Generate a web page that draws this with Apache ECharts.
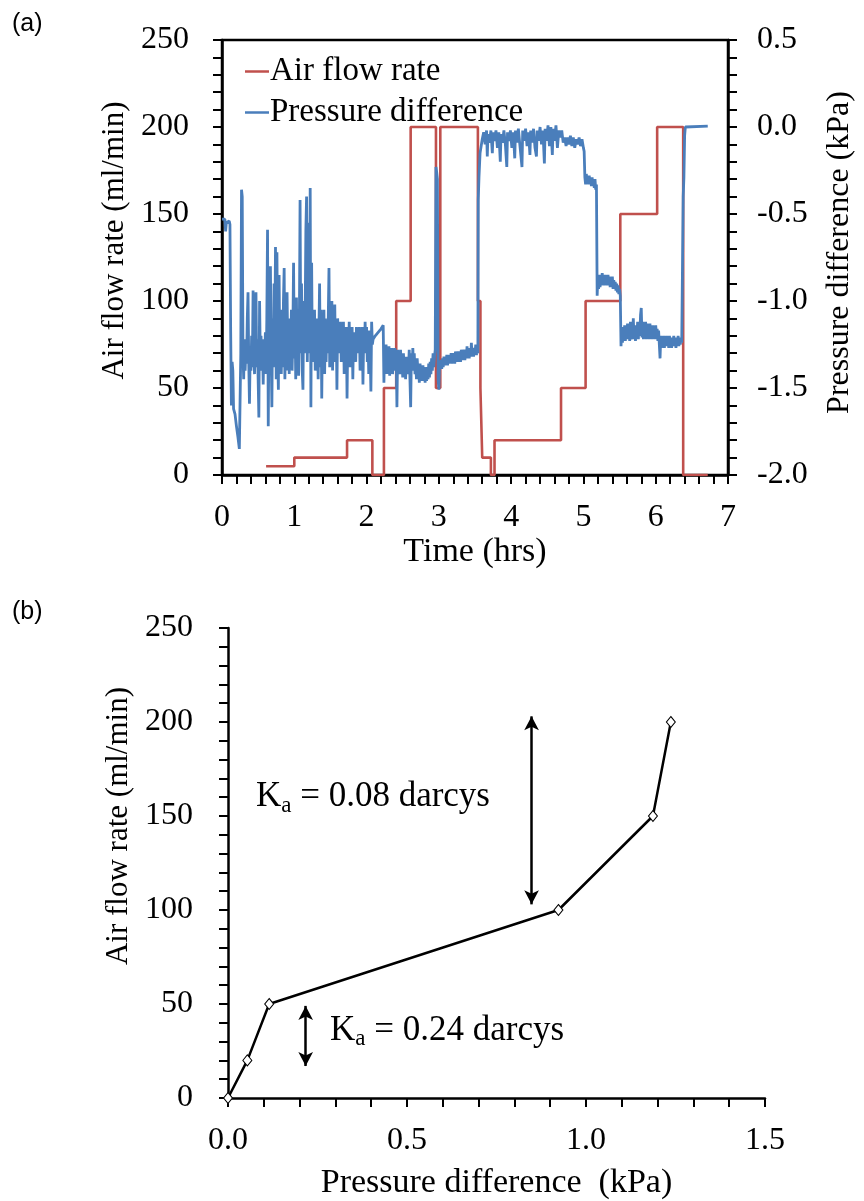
<!DOCTYPE html>
<html><head><meta charset="utf-8">
<script src="https://cdn.jsdelivr.net/npm/echarts@6/dist/echarts.min.js"></script>
<style>html,body{margin:0;padding:0;background:#fff}#c{width:864px;height:1201px}</style>
</head><body><div id="c"></div>
<script>
// ---------- Panel (a) data ----------
const flowStepTime = [0.61,1.00,1.73,2.08,2.24,2.41,2.61,2.96,3.02,3.54,3.575,3.60,3.72,3.77,4.69,5.03,5.51,6.02,6.38,6.72];
const flowStepRate = [5,10,20,0,50,100,200,50,200,100,50,10,0,20,50,100,150,200,0,0];

const pressureSeries = [
[0,-0.53],[0.02,-0.54],[0.04,-0.53],[0.05,-0.6],[0.06,-0.55],[0.08,-0.54],[0.1,-0.54],[0.11,-0.56],
[0.12,-1.18],[0.13,-1.6],[0.14,-1.35],[0.15,-1.4],[0.16,-1.62],[0.18,-1.65],[0.2,-1.72],[0.22,-1.78],[0.24,-1.85],[0.25,-1.86],[0.26,-1.3],[0.27,-0.36],[0.28,-0.4],[0.29,-1.3],
[0.30,-1.45],[0.31,-1.22],[0.32,-1.40],[0.33,-1.28],[0.34,-1.36],[0.35,-1.10],[0.36,-0.95],[0.37,-1.35],[0.38,-1.59],[0.39,-1.30],
[0.40,-1.40],[0.41,-1.20],[0.42,-1.38],[0.43,-0.94],[0.44,-1.30],[0.45,-1.42],[0.46,-1.25],[0.47,-0.95],[0.48,-1.38],[0.49,-1.22],
[0.50,-1.45],[0.51,-1.67],[0.52,-1.0],[0.53,-1.33],[0.54,-1.20],[0.55,-1.40],[0.56,-1.25],[0.57,-1.48],[0.58,-1.22],[0.59,-1.35],
[0.60,-1.18],[0.61,-1.42],[0.62,-1.10],[0.63,-0.59],[0.64,-1.72],[0.65,-1.15],[0.66,-1.40],[0.67,-0.80],[0.68,-1.30],[0.69,-1.61],
[0.70,-1.1],[0.71,-1.38],[0.72,-0.9],[0.73,-1.25],[0.74,-0.69],[0.75,-1.45],[0.76,-0.72],[0.77,-1.30],[0.78,-1.51],[0.79,-0.85],
[0.80,-1.35],[0.81,-1.05],[0.82,-1.42],[0.83,-1.15],[0.84,-1.38],[0.85,-1.0],[0.86,-0.81],[0.87,-1.45],[0.88,-1.2],[0.89,-1.40],
[0.90,-0.95],[0.91,-1.30],[0.92,-1.15],[0.93,-1.42],[0.94,-1.1],[0.95,-1.35],[0.96,-1.05],[0.97,-1.40],[0.98,-1.2],[0.99,-0.78],
[1.00,-1.33],[1.01,-1.1],[1.02,-1.45],[1.03,-0.98],[1.04,-1.38],[1.05,-1.05],[1.06,-1.43],[1.07,-1.15],[1.08,-0.42],[1.09,-1.3],
[1.10,-0.9],[1.11,-1.4],[1.12,-1.51],[1.13,-1.0],[1.14,-1.3],[1.15,-1.1],[1.16,-0.6],[1.17,-0.40],[1.18,-1.35],[1.19,-1.0],
[1.20,-0.55],[1.21,-1.3],[1.22,-0.35],[1.23,-1.61],[1.24,-0.78],[1.25,-1.35],[1.26,-1.1],[1.27,-1.3],[1.28,-1.05],[1.29,-1.4],
[1.30,-1.2],[1.31,-1.35],[1.32,-1.1],[1.33,-1.45],[1.34,-1.2],[1.35,-0.90],[1.36,-1.38],[1.37,-1.05],[1.38,-1.56],[1.39,-1.15],
[1.40,-1.3],[1.41,-1.05],[1.42,-1.42],[1.43,-1.1],[1.44,-1.35],[1.45,-1.15],[1.46,-1.3],[1.47,-1.1],[1.48,-0.81],[1.49,-1.38],
[1.50,-1.1],[1.51,-1.3],[1.52,-1.0],[1.53,-1.40],[1.54,-1.05],[1.55,-1.28],[1.56,-1.02],[1.57,-1.35],[1.58,-1.12],[1.59,-1.51],
[1.60,-1.1],[1.61,-1.3],[1.62,-1.15],[1.63,-1.28],[1.64,-1.12],[1.65,-1.35],[1.66,-1.18],[1.67,-1.3],[1.68,-1.12],[1.69,-1.42],
[1.70,-1.15],[1.71,-1.3],[1.72,-1.15],[1.73,-1.56],[1.74,-1.2],[1.75,-1.3],[1.76,-1.12],[1.77,-1.38],[1.78,-1.15],[1.79,-1.28],
[1.80,-1.15],[1.81,-1.45],[1.82,-1.18],[1.83,-1.3],[1.84,-1.2],[1.85,-1.35],[1.86,-1.15],[1.87,-1.3],[1.88,-1.18],[1.89,-1.28],
[1.90,-1.15],[1.91,-1.40],[1.92,-1.18],[1.93,-1.3],[1.94,-1.15],[1.95,-1.48],[1.96,-1.2],[1.97,-1.3],[1.98,-1.12],[1.99,-1.28],
[2.00,-1.15],[2.01,-1.35],[2.02,-1.2],[2.03,-1.42],[2.04,-1.17],[2.05,-1.3],[2.06,-1.52],[2.07,-1.12],[2.08,-1.25],[2.09,-1.22],
[2.12,-1.2],[2.16,-1.18],[2.20,-1.16],[2.23,-1.14],
[2.24,-1.47],[2.25,-1.27],[2.26,-1.40],[2.27,-1.25],[2.28,-1.42],[2.29,-1.28],[2.30,-1.38],[2.31,-1.26],[2.32,-1.43],[2.33,-1.3],
[2.34,-1.38],[2.35,-1.27],[2.36,-1.42],[2.37,-1.3],[2.38,-1.36],[2.39,-1.27],[2.40,-1.40],[2.41,-1.30],[2.42,-1.61],[2.43,-1.28],
[2.44,-1.38],[2.45,-1.3],[2.46,-1.42],[2.47,-1.28],[2.48,-1.38],[2.49,-1.32],[2.50,-1.44],[2.51,-1.3],[2.52,-1.40],[2.53,-1.33],
[2.54,-1.45],[2.55,-1.32],[2.56,-1.42],[2.57,-1.35],[2.58,-1.40],[2.59,-1.28],[2.60,-1.45],[2.61,-1.61],[2.62,-1.3],[2.63,-1.38],
[2.64,-1.27],[2.65,-1.40],[2.66,-1.3],[2.67,-1.42],[2.68,-1.35],[2.69,-1.45],[2.70,-1.33],[2.71,-1.40],[2.72,-1.38],[2.73,-1.47],
[2.74,-1.36],[2.75,-1.45],[2.76,-1.38],[2.77,-1.46],[2.78,-1.37],[2.79,-1.45],[2.80,-1.38],[2.81,-1.47],[2.82,-1.4],[2.83,-1.46],
[2.84,-1.38],[2.85,-1.45],[2.86,-1.36],[2.87,-1.44],[2.88,-1.35],[2.89,-1.42],[2.90,-1.33],[2.91,-1.4],[2.92,-1.3],[2.93,-1.38],
[2.94,-1.32],[2.95,-1.28],[2.96,-0.23],[2.97,-0.26],[2.98,-0.3],[2.99,-1.45],[3.00,-1.51],[3.01,-1.36],
[3.02,-1.38],[3.03,-1.34],[3.04,-1.39],[3.05,-1.33],[3.06,-1.38],[3.07,-1.32],[3.08,-1.37],[3.09,-1.33],[3.10,-1.36],[3.11,-1.31],
[3.12,-1.37],[3.13,-1.32],[3.14,-1.36],[3.15,-1.31],[3.16,-1.35],[3.17,-1.30],[3.18,-1.36],[3.19,-1.31],[3.20,-1.35],[3.21,-1.30],
[3.22,-1.36],[3.23,-1.29],[3.24,-1.34],[3.25,-1.30],[3.26,-1.35],[3.27,-1.29],[3.28,-1.34],[3.29,-1.30],[3.30,-1.35],[3.31,-1.28],
[3.32,-1.34],[3.33,-1.29],[3.34,-1.33],[3.35,-1.28],[3.36,-1.34],[3.37,-1.29],[3.38,-1.33],[3.39,-1.26],[3.40,-1.33],[3.41,-1.28],
[3.42,-1.33],[3.43,-1.27],[3.44,-1.32],[3.45,-1.24],[3.46,-1.32],[3.47,-1.28],[3.48,-1.32],[3.49,-1.27],[3.50,-1.31],[3.51,-1.25],
[3.52,-1.31],[3.53,-1.28],[3.54,-1.30],
[3.545,-0.42],[3.555,-0.29],[3.57,-0.15],
[3.60,-0.07],[3.62,-0.03],[3.64,-0.10],[3.66,-0.02],[3.67,-0.17],[3.68,-0.04],[3.70,-0.09],[3.72,-0.02],[3.74,-0.15],[3.75,-0.03],
[3.77,-0.08],[3.79,-0.02],[3.81,-0.12],[3.83,-0.03],[3.85,-0.20],[3.86,-0.04],[3.88,-0.09],[3.90,-0.02],[3.92,-0.10],[3.94,-0.23],
[3.95,-0.03],[3.97,-0.08],[3.99,-0.02],[4.01,-0.12],[4.03,-0.03],[4.05,-0.18],[4.06,-0.02],[4.08,-0.09],[4.10,-0.01],[4.12,-0.10],
[4.15,-0.23],[4.16,-0.02],[4.18,-0.08],[4.20,-0.01],[4.22,-0.11],[4.24,-0.03],[4.26,-0.16],[4.27,-0.02],[4.29,-0.09],[4.31,-0.01],
[4.33,-0.12],[4.35,-0.17],[4.36,-0.02],[4.38,-0.08],[4.40,0.00],[4.42,-0.10],[4.44,-0.02],[4.46,-0.21],[4.47,-0.01],[4.49,-0.08],
[4.51,0.01],[4.53,-0.11],[4.55,0.00],[4.57,-0.16],[4.58,-0.01],[4.60,-0.08],[4.62,0.01],[4.64,-0.12],[4.66,-0.02],[4.68,-0.06],
[4.70,-0.02],[4.72,-0.09],[4.74,-0.06],[4.76,-0.11],[4.78,-0.06],[4.80,-0.10],[4.82,-0.05],[4.84,-0.11],[4.86,-0.06],[4.88,-0.12],
[4.90,-0.07],[4.92,-0.10],[4.94,-0.06],[4.96,-0.11],[4.98,-0.07],[5.00,-0.12],[5.01,-0.14],
[5.02,-0.29],[5.03,-0.33],[5.04,-0.27],[5.05,-0.32],[5.06,-0.28],[5.07,-0.33],[5.08,-0.28],[5.09,-0.32],[5.10,-0.29],[5.11,-0.34],
[5.12,-0.29],[5.13,-0.33],[5.14,-0.3],[5.15,-0.35],[5.16,-0.3],[5.17,-0.36],[5.18,-0.33],
[5.19,-0.97],[5.20,-0.86],[5.21,-0.93],[5.22,-0.85],[5.23,-0.92],[5.24,-0.86],[5.25,-0.91],[5.26,-0.84],[5.27,-0.90],[5.28,-0.86],
[5.29,-0.91],[5.30,-0.85],[5.31,-0.90],[5.32,-0.86],[5.33,-0.91],[5.34,-0.85],[5.35,-0.91],[5.36,-0.86],[5.37,-0.92],[5.38,-0.87],
[5.39,-0.92],[5.40,-0.86],[5.41,-0.93],[5.42,-0.88],[5.43,-0.93],[5.44,-0.89],[5.45,-0.94],[5.46,-0.9],[5.47,-0.95],[5.48,-0.91],
[5.49,-0.96],[5.50,-0.93],[5.51,-0.97],
[5.52,-1.26],[5.53,-1.16],[5.54,-1.24],[5.55,-1.15],[5.56,-1.22],[5.57,-1.14],[5.58,-1.23],[5.59,-1.15],[5.60,-1.22],[5.61,-1.13],
[5.62,-1.21],[5.63,-1.15],[5.64,-1.23],[5.65,-1.12],[5.66,-1.22],[5.67,-1.16],[5.68,-1.21],[5.69,-1.10],[5.70,-1.22],[5.71,-1.14],
[5.72,-1.23],[5.73,-1.15],[5.74,-1.2],[5.75,-1.12],[5.76,-1.22],[5.77,-1.13],[5.78,-1.2],[5.79,-1.08],[5.80,-1.04],[5.81,-1.21],
[5.82,-1.12],[5.83,-1.22],[5.84,-1.14],[5.85,-1.21],[5.86,-1.12],[5.87,-1.22],[5.88,-1.13],[5.89,-1.2],[5.90,-1.14],[5.91,-1.22],
[5.92,-1.13],[5.93,-1.21],[5.94,-1.15],[5.95,-1.22],[5.96,-1.14],[5.97,-1.21],[5.98,-1.15],[5.99,-1.22],[6.00,-1.14],[6.01,-1.2],
[6.02,-1.16],[6.03,-1.23],[6.04,-1.17],[6.05,-1.25],[6.06,-1.33],[6.07,-1.20],[6.08,-1.27],[6.09,-1.21],[6.10,-1.26],[6.11,-1.20],
[6.12,-1.27],[6.13,-1.21],[6.14,-1.26],[6.15,-1.20],[6.16,-1.25],[6.17,-1.21],[6.18,-1.27],[6.19,-1.20],[6.20,-1.26],[6.21,-1.21],
[6.22,-1.27],[6.23,-1.21],[6.24,-1.25],[6.25,-1.20],[6.26,-1.26],[6.27,-1.21],[6.28,-1.27],[6.29,-1.21],[6.30,-1.25],[6.31,-1.20],
[6.32,-1.26],[6.33,-1.21],[6.34,-1.25],[6.35,-1.22],[6.36,-1.24],
[6.38,-0.40],[6.39,-0.29],[6.40,-0.05],[6.41,0.0],[6.72,0.005]
];

// ---------- Panel (b) data ----------
const permPressure = [0, 0.054, 0.115, 0.923, 1.187, 1.237];
const permFlow = [0, 20, 50, 100, 150, 200];
const arrowX = [0.848, 0.217];
const arrowTop = [203, 49];
const arrowBottom = [103, 17];
const noteText = ['0.08 darcys', '0.24 darcys'];
const notePos = [[0.078, 160], [0.285, 36]];

const serif = 'Liberation Serif';
const blk = '#000';

function axisCommon(extra) {
  return Object.assign({
    axisLine: { show: true, onZero: false, lineStyle: { color: blk, width: 2.5 } },
    axisTick: { show: true, inside: false, length: 9, lineStyle: { color: blk, width: 2 } },
    minorTick: { show: true, splitNumber: 5, length: 9, lineStyle: { color: blk, width: 2 } },
    splitLine: { show: false },
    minorSplitLine: { show: false },
    nameLocation: 'middle'
  }, extra);
}
const tickFont = { color: blk, fontFamily: serif, fontSize: 32 };

const chart = echarts.init(document.getElementById('c'), null, { renderer: 'canvas' });

const option = {
  animation: false,
  backgroundColor: '#fff',
  grid: [
    { left: 222, width: 511, top: 40, height: 435, show: true, borderColor: blk, borderWidth: 2.5, backgroundColor: 'transparent' },
    { left: 228, width: 537, top: 628, height: 470 }
  ],
  legend: {
    data: ['Air flow rate', 'Pressure difference'],
    orient: 'vertical',
    left: 240, top: 50,
    icon: 'rect',
    itemWidth: 24, itemHeight: 2.5, itemGap: 8,
    textStyle: { color: blk, fontFamily: serif, fontSize: 33, padding: [0, 0, 0, -4] }
  },
  graphic: [
    { type: 'text', left: 12, top: 12, style: { text: '(a)', fontFamily: 'Liberation Sans', fontSize: 25, fill: blk } },
    { type: 'text', left: 12, top: 600, style: { text: '(b)', fontFamily: 'Liberation Sans', fontSize: 25, fill: blk } }
  ],
  xAxis: [
    axisCommon({ gridIndex: 0, type: 'value', min: 0, max: 7, interval: 1,
      name: 'Time (hrs)', nameGap: 46,
      nameTextStyle: { color: blk, fontFamily: serif, fontSize: 34 },
      axisLabel: Object.assign({ margin: 27 }, tickFont) }),
    axisCommon({ gridIndex: 1, type: 'value', min: 0, max: 1.5, interval: 0.5,
      name: 'Pressure difference  (kPa)', nameGap: 68,
      nameTextStyle: { color: blk, fontFamily: serif, fontSize: 34 },
      axisLabel: Object.assign({ margin: 27, formatter: v => v.toFixed(1) }, tickFont) })
  ],
  yAxis: [
    axisCommon({ gridIndex: 0, type: 'value', min: 0, max: 250, interval: 50, position: 'left',
      name: 'Air flow rate (ml/min)', nameGap: 44, nameRotate: 90,
      nameTextStyle: { color: blk, fontFamily: serif, fontSize: 31, padding: [0, 0, 0, 34] },
      axisLabel: Object.assign({ margin: 33 }, tickFont) }),
    axisCommon({ gridIndex: 0, type: 'value', min: -2, max: 0.5, interval: 0.5, position: 'right',
      name: 'Pressure difference (kPa)', nameGap: 96, nameRotate: 90,
      nameTextStyle: { color: blk, fontFamily: serif, fontSize: 32, padding: [0, 0, 0, 10] },
      axisLabel: Object.assign({ margin: 29, formatter: v => v.toFixed(1) }, tickFont) }),
    axisCommon({ gridIndex: 1, type: 'value', min: 0, max: 250, interval: 50,
      name: 'Air flow rate (ml/min)', nameGap: 94, nameRotate: 90,
      nameTextStyle: { color: blk, fontFamily: serif, fontSize: 31, padding: [0, 0, 0, 74] },
      axisLabel: Object.assign({ margin: 35 }, tickFont) })
  ],
  series: [
    {
      name: 'Air flow rate', type: 'line', xAxisIndex: 0, yAxisIndex: 0, step: 'end',
      data: flowStepTime.map((t, i) => [t, flowStepRate[i]]),
      symbol: 'none', showSymbol: false, color: '#C0504D',
      lineStyle: { color: '#C0504D', width: 2.6 }
    },
    {
      name: 'Pressure difference', type: 'line', xAxisIndex: 0, yAxisIndex: 1,
      data: pressureSeries,
      symbol: 'none', showSymbol: false, color: '#4A7EBB',
      lineStyle: { color: '#4A7EBB', width: 2.8 }
    },
    {
      name: 'perm', type: 'line', xAxisIndex: 1, yAxisIndex: 2,
      data: permPressure.map((p, i) => [p, permFlow[i]]),
      symbol: 'diamond', symbolSize: [9, 11],
      itemStyle: { color: '#fff', borderColor: blk, borderWidth: 1 },
      lineStyle: { color: blk, width: 2.5 },
      z: 3,
      markLine: {
        silent: true, symbol: ['arrow', 'arrow'], symbolSize: [11, 14],
        lineStyle: { color: blk, width: 2.5, type: 'solid' },
        label: { show: false },
        data: arrowX.map((x, i) => [{ coord: [x, arrowTop[i]] }, { coord: [x, arrowBottom[i]] }])
      }
    },
    {
      name: 'notes', type: 'scatter', xAxisIndex: 1, yAxisIndex: 2,
      data: notePos, symbolSize: 0, silent: true,
      itemStyle: { opacity: 1 },
      label: {
        show: true, position: [0, 0], align: 'left', verticalAlign: 'middle', color: blk, opacity: 1,
        formatter: p => '{k|K}{s|a}{k| = ' + noteText[p.dataIndex] + '}',
        rich: {
          k: { fontFamily: serif, fontSize: 35, color: blk, lineHeight: 40 },
          s: { fontFamily: serif, fontSize: 23, color: blk, lineHeight: 14, verticalAlign: 'bottom' }
        }
      }
    }
  ]
};
chart.setOption(option);
</script>
</body></html>
